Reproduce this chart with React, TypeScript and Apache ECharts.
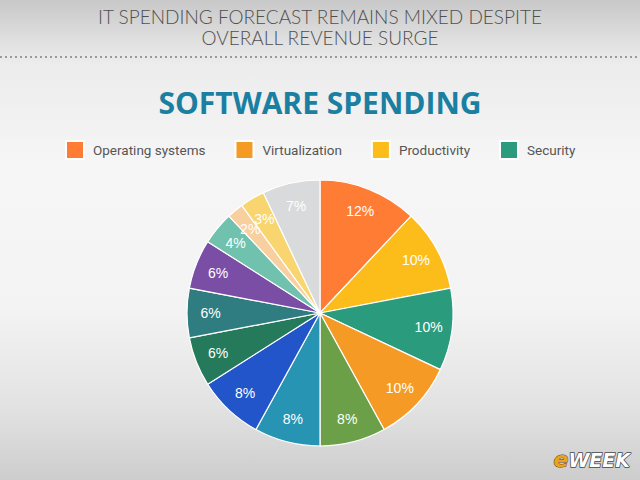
import React, { useEffect, useRef } from "react";
import * as echarts from "echarts";

const headerLines = ["IT SPENDING FORECAST REMAINS MIXED DESPITE", "OVERALL REVENUE SURGE"];
const chartTitle = "SOFTWARE SPENDING";
const legendNames = ["Operating systems", "Virtualization", "Productivity", "Security"];
const sliceNames = [
  "Operating systems", "Productivity", "Security", "Virtualization",
  "Other A", "Other B", "Other C", "Other D", "Other E", "Other F",
  "Other G", "Other H", "Other I", "Other J",
];
const sliceValues = [12, 10, 10, 10, 8, 8, 8, 6, 6, 6, 4, 2, 3, 7];
const sliceColors = [
  "#FF7C35", "#FCBD1B", "#2B9B7D", "#F59B25", "#6B9F48", "#2894B4", "#2155C9",
  "#257A5B", "#2F7C81", "#7B4EA5", "#70C1AE", "#F8CF9F", "#F8D56F", "#D9DADB",
];

export default function App() {
  const ref = useRef<HTMLDivElement>(null);
  useEffect(() => {
    if (!ref.current) return;
    const chart = echarts.init(ref.current, null, { renderer: "svg" });
    const data = sliceNames.map((n, i) => ({
      name: n,
      value: sliceValues[i],
      itemStyle: { color: sliceColors[i] },
    }));
    chart.setOption({
      animation: false,
      backgroundColor: "transparent",
      title: {
        text: chartTitle,
        left: "center",
        top: 82,
        textStyle: {
          fontFamily: "Open Sans",
          fontWeight: 700,
          fontSize: 30,
          color: "#1A7FA1",
        },
      },
      legend: {
        data: legendNames,
        top: 135,
        left: 60,
        itemWidth: 18,
        itemHeight: 18,
        itemGap: 29,
        icon: "rect",
        textStyle: { fontFamily: "Roboto", fontSize: 13.5, color: "#555", padding: [0, 0, 0, 4] },
      },
      graphic: [
        ...headerLines.map((t, i) => ({
          type: "text",
          x: 320,
          y: 7 + i * 21,
          style: {
            text: t,
            fontFamily: "Lato",
            fontSize: 19,
            fontWeight: 300,
            fill: "#4f4f4f",
            textAlign: "center",
          },
        })),
        {
          type: "line",
          shape: { x1: 0, y1: 57, x2: 640, y2: 57 },
          style: { stroke: "#9a9a9a", lineWidth: 2, lineDash: [2, 3] },
        },
        {
          type: "text",
          left: 553,
          top: 448,
          style: {
            text: "{e|e}{w|WEEK}",
            rich: {
              e: {
                fontFamily: "DejaVu Sans",
                fontStyle: "italic",
                fontWeight: "bold",
                fontSize: 22,
                fill: "#E9A321",
                stroke: "#6b4a10",
                lineWidth: 1,
              },
              w: {
                fontFamily: "DejaVu Sans",
                fontStyle: "italic",
                fontWeight: "bold",
                fontSize: 19,
                fill: "#ffffff",
                stroke: "#444",
                lineWidth: 1.5,
              },
            },
          },
        },
      ],
      series: [
        {
          type: "pie",
          center: [320, 313],
          radius: [0, 133],
          startAngle: 90,
          clockwise: true,
          silent: true,
          data,
          label: { show: false },
          labelLine: { show: false },
          itemStyle: { borderColor: "#ffffff", borderWidth: 1.2 },
        },
        {
          type: "pie",
          center: [320, 313],
          radius: [80, 133],
          startAngle: 90,
          clockwise: true,
          silent: true,
          avoidLabelOverlap: false,
          legendHoverLink: false,
          data: data.map((d) => ({ ...d, itemStyle: { color: "transparent" } })),
          label: {
            show: true,
            position: "inside",
            formatter: "{c}%",
            color: "#ffffff",
            fontFamily: "Liberation Sans",
            fontSize: 14,
          },
          labelLayout: { hideOverlap: false },
          labelLine: { show: false },
          itemStyle: { borderWidth: 0 },
        },
      ],
    });
    return () => chart.dispose();
  }, []);
  return (
    <div
      ref={ref}
      style={{
        position: "fixed",
        left: 0,
        top: 0,
        width: 640,
        height: 480,
        background:
          "linear-gradient(to bottom, #c8c8c8 0%, #ececec 13%, #f6f6f6 35%, #f3f3f3 65%, #e2e2e2 85%, #cdcdcd 100%)",
      }}
    />
  );
}
